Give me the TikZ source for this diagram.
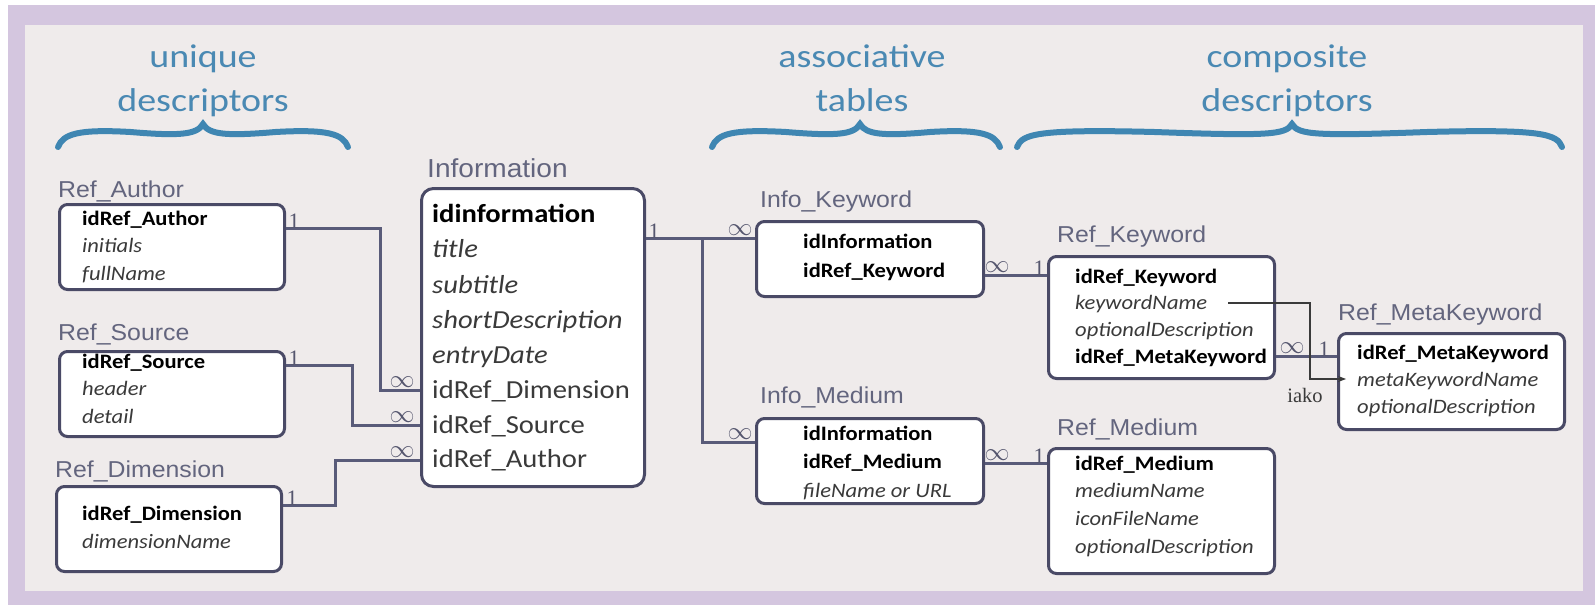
\documentclass[tikz,border=0pt]{standalone}
\usepackage{fix-cm}
\usepackage{fontspec}
\setmainfont{Carlito}[FakeStretch=1.1]
\newfontfamily\lblfont{Liberation Sans}[FakeStretch=1.08]
\newfontfamily\ttlfont{Carlito}[FakeStretch=1.15]
\newfontfamily\serfont{Liberation Serif}
\usetikzlibrary{arrows.meta}
\definecolor{purp}{HTML}{D4C6DF}
\definecolor{bgc}{HTML}{EFEBEB}
\definecolor{ttlc}{HTML}{4A89B3}
\definecolor{brc}{HTML}{3F86B2}
\definecolor{lblc}{HTML}{63657E}
\definecolor{bdr}{HTML}{4A4A66}
\definecolor{conc}{HTML}{595B79}
\definecolor{italc}{HTML}{3A3A3A}
\definecolor{onec}{HTML}{55566E}
\newcommand\tabrow[4]{\node[rowsty] (#1) at (#2,-#3) {#4};}
\newcommand\inforow[4]{\node[irowsty] (#1) at (#2,-#3) {#4};}
\newcommand\curlybr[3]{%
  \pgfmathsetmacro\brA{(#1+#2)/2}\pgfmathsetmacro\brB{(#2+#3)/2}%
  \draw[bracesty] (#1,-147) .. controls (#1+5,-134) and (#1+20,-129) .. (\brA,-132)
     .. controls (#2-25,-136) and (#2-6,-135) .. (#2,-124)
     .. controls (#2+6,-135) and (#2+25,-136) .. (\brB,-132)
     .. controls (#3-20,-129) and (#3-5,-134) .. (#3,-147);}
\begin{document}
\begin{tikzpicture}[x=1pt,y=1pt,
  tbl/.style={draw=bdr, line width=3pt, fill=white, rounded corners=8pt, anchor=north west, inner sep=0pt},
  rowsty/.style={anchor=base west, inner sep=0pt, font=\fontsize{20.5}{24}\selectfont},
  irowsty/.style={anchor=base west, inner sep=0pt, font=\fontsize{26}{30}\selectfont},
  lblsty/.style={anchor=base west, inner sep=0pt, text=lblc, font=\lblfont\fontsize{23}{26}\selectfont},
  ttlsty/.style={anchor=base, inner sep=0pt, text=ttlc, font=\ttlfont\fontsize{33}{38}\selectfont},
  bracesty/.style={draw=brc, line width=6pt, line cap=round},
  consty/.style={draw=conc, line width=3pt},
  onesty/.style={anchor=base, inner sep=0pt, text=onec, font=\serfont\fontsize{22}{22}\selectfont},
  infsty/.style={anchor=south, inner sep=0pt, text=onec, font=\fontsize{25}{25}\selectfont},
  iakosty/.style={draw=italc, line width=1.2pt, -{Stealth[length=8pt,width=6pt]}},
]
\useasboundingbox (0,0) rectangle (1595,-605);
\fill[white] (0,0) rectangle (1595,-605);
\fill[purp] (8,-5) rectangle (1595,-605);
\fill[bgc] (25,-25) rectangle (1583,-591);

% titles
\node[ttlsty] (t1a) at (203,-67.5) {unique};
\node[ttlsty] (t1b) at (203,-111.5) {descriptors};
\node[ttlsty] (t2a) at (862,-67.5) {associative};
\node[ttlsty] (t2b) at (862,-111.5) {tables};
\node[ttlsty] (t3a) at (1287,-67.5) {composite};
\node[ttlsty] (t3b) at (1287,-111.5) {descriptors};
\curlybr{58}{203}{348}
\curlybr{712}{860}{1000}
\curlybr{1017}{1292}{1562}

% tables
\node[tbl, minimum width=225pt, minimum height=85pt] (ra) at (58,-203) {};
\node[tbl, minimum width=225pt, minimum height=85pt] (rs) at (58,-350) {};
\node[tbl, minimum width=225pt, minimum height=85pt] (rd) at (55,-485) {};
\node[tbl, rounded corners=12pt, minimum width=223pt, minimum height=298pt] (info) at (420,-187) {};
\node[tbl, minimum width=227pt, minimum height=75pt] (ik) at (755,-220) {};
\node[tbl, minimum width=227pt, minimum height=85pt] (im) at (755,-417) {};
\node[tbl, minimum width=226pt, minimum height=122pt] (rk) at (1047,-255) {};
\node[tbl, minimum width=226pt, minimum height=96pt] (rm) at (1337,-332) {};
\node[tbl, minimum width=226pt, minimum height=125pt] (rme) at (1047,-447) {};

% connectors
\draw[consty] (ra.east |- 0,-228) -| (380,-390) -- (info.west |- 0,-390);
\draw[consty] (rs.east |- 0,-365) -| (352,-425) -- (info.west |- 0,-425);
\draw[consty] (rd.east |- 0,-505) -| (335,-460) -- (info.west |- 0,-460);
\draw[consty] (info.east |- 0,-238) -- (ik.west |- 0,-238);
\draw[consty] (702,-238) |- (im.west |- 0,-442);
\draw[consty] (ik.east |- 0,-275) -- (rk.west |- 0,-275);
\draw[consty] (im.east |- 0,-463) -- (rme.west |- 0,-463);
\draw[consty] (rk.east |- 0,-356) -- (rm.west |- 0,-356);

% labels
\node[lblsty] (lra) at (58,-197) {Ref\_Author};
\node[lblsty] (lrs) at (58,-340) {Ref\_Source};
\node[lblsty] (lrd) at (55,-477) {Ref\_Dimension};
\node[lblsty, font=\lblfont\fontsize{26}{28}\selectfont] (linfo) at (427,-177) {Information};
\node[lblsty] (lik) at (760,-207) {Info\_Keyword};
\node[lblsty] (lim) at (760,-403) {Info\_Medium};
\node[lblsty] (lrk) at (1057,-242) {Ref\_Keyword};
\node[lblsty] (lrm) at (1338,-320) {Ref\_MetaKeyword};
\node[lblsty] (lrme) at (1057,-435) {Ref\_Medium};

% rows
\tabrow{ra1}{82}{225}{\bfseries idRef\_Author}
\tabrow{ra2}{82}{252}{\color{italc}\itshape initials}
\tabrow{ra3}{82}{280}{\color{italc}\itshape fullName}
\tabrow{rs1}{82}{368}{\bfseries idRef\_Source}
\tabrow{rs2}{82}{395}{\color{italc}\itshape header}
\tabrow{rs3}{82}{423}{\color{italc}\itshape detail}
\tabrow{rd1}{82}{520}{\bfseries idRef\_Dimension}
\tabrow{rd2}{82}{548}{\color{italc}\itshape dimensionName}
\inforow{in1}{432}{222}{\bfseries idinformation}
\inforow{in2}{432}{257}{\color{italc}\itshape title}
\inforow{in3}{432}{293}{\color{italc}\itshape subtitle}
\inforow{in4}{432}{328}{\color{italc}\itshape shortDescription}
\inforow{in5}{432}{363}{\color{italc}\itshape entryDate}
\inforow{in6}{432}{398}{\color{italc}idRef\_Dimension}
\inforow{in7}{432}{433}{\color{italc}idRef\_Source}
\inforow{in8}{432}{467}{\color{italc}idRef\_Author}
\tabrow{ik1}{803}{248}{\bfseries idInformation}
\tabrow{ik2}{803}{277}{\bfseries idRef\_Keyword}
\tabrow{im1}{803}{440}{\bfseries idInformation}
\tabrow{im2}{803}{468}{\bfseries idRef\_Medium}
\tabrow{im3}{803}{497}{\color{italc}\itshape fileName or URL}
\tabrow{rk1}{1075}{283}{\bfseries idRef\_Keyword}
\tabrow{rk2}{1075}{309}{\color{italc}\itshape keywordName}
\tabrow{rk3}{1075}{336}{\color{italc}\itshape optionalDescription}
\tabrow{rk4}{1075}{363}{\bfseries idRef\_MetaKeyword}
\tabrow{rm1}{1357}{359}{\bfseries idRef\_MetaKeyword}
\tabrow{rm2}{1357}{386}{\color{italc}\itshape metaKeywordName}
\tabrow{rm3}{1357}{413}{\color{italc}\itshape optionalDescription}
\tabrow{rme1}{1075}{470}{\bfseries idRef\_Medium}
\tabrow{rme2}{1075}{497}{\color{italc}\itshape mediumName}
\tabrow{rme3}{1075}{525}{\color{italc}\itshape iconFileName}
\tabrow{rme4}{1075}{553}{\color{italc}\itshape optionalDescription}

% cardinalities
\node[onesty] (c1) at (294,-228) {1};
\node[onesty] (c2) at (294,-365) {1};
\node[onesty] (c3) at (292,-505) {1};
\node[onesty] (c4) at (654,-238) {1};
\node[onesty] (c5) at (1039,-275) {1};
\node[onesty] (c6) at (1039,-463) {1};
\node[onesty] (c7) at (1324,-356) {1};
\node[infsty] (m1) at (402,-388) {$\infty$};
\node[infsty] (m2) at (402,-423) {$\infty$};
\node[infsty] (m3) at (402,-458) {$\infty$};
\node[infsty] (m4) at (740,-236) {$\infty$};
\node[infsty] (m5) at (740,-440) {$\infty$};
\node[infsty] (m6) at (997,-273) {$\infty$};
\node[infsty] (m7) at (997,-461) {$\infty$};
\node[infsty] (m8) at (1292,-354) {$\infty$};

% iako link
\coordinate (ikstart) at (1228,-303);
\draw[iakosty, shorten >=-9pt] (ikstart) -| (1310,-379) -- (rm.west |- 0,-379);
\node[anchor=base, inner sep=0pt, text=italc, font=\serfont\fontsize{20.5}{22}\selectfont] (iako) at (1305,-402) {iako};
\end{tikzpicture}
\end{document}
